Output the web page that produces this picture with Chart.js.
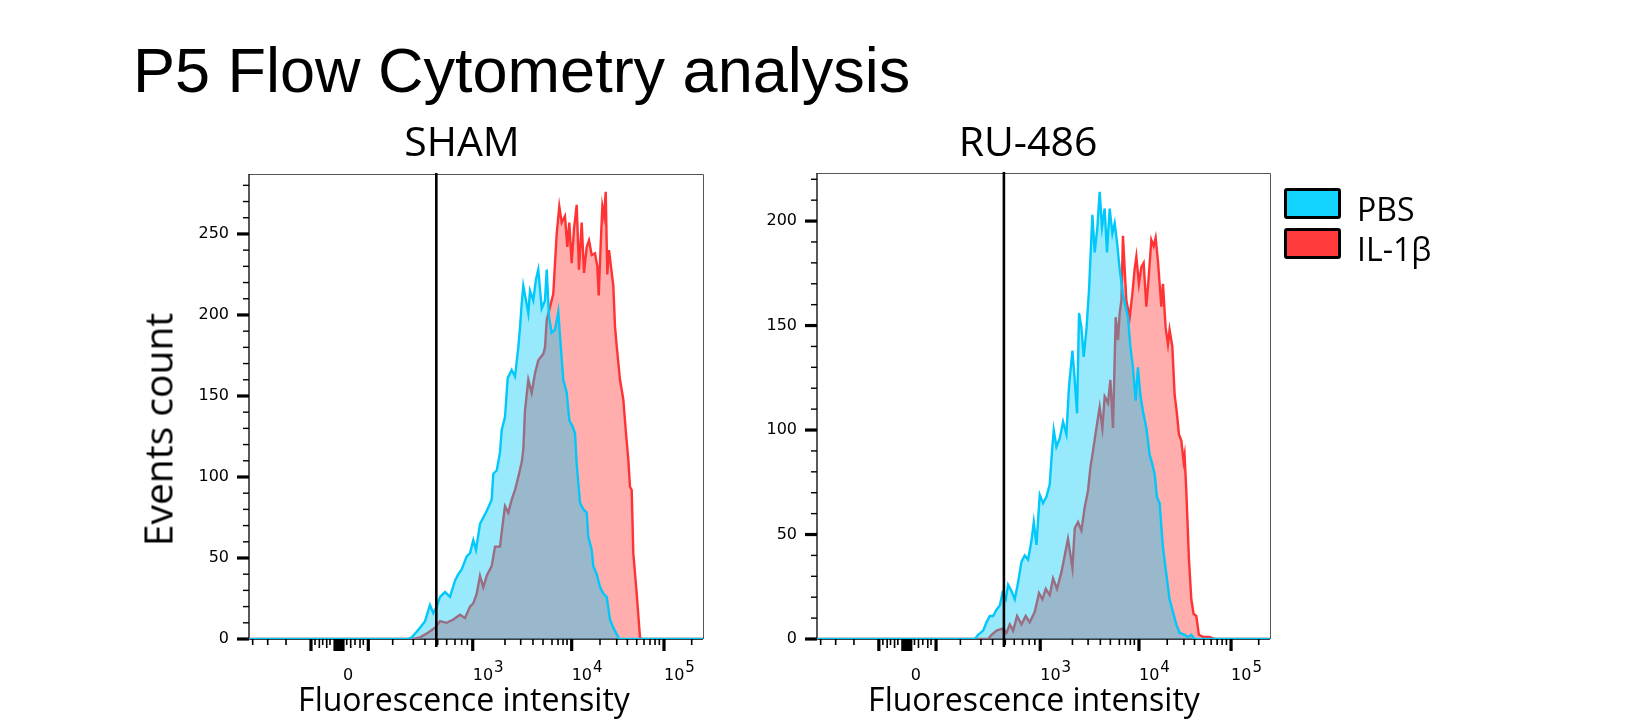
<!DOCTYPE html>
<html>
<head>
<meta charset="utf-8">
<title>P5 Flow Cytometry analysis</title>
<script src="https://cdn.jsdelivr.net/npm/chart.js@4.4.1/dist/chart.umd.min.js"></script>
<style>
  body { margin: 0; background: #fff; }
  #page { position: relative; width: 1651px; height: 724px; overflow: hidden; background: #fff; }
  #page canvas { position: absolute; top: 0; }
  .txt { position: absolute; line-height: 1; white-space: nowrap; color: #000; }
  .panel-title { font: 41px "Open Sans", sans-serif; width: 300px; text-align: center; top: 112px; }
  .x-title { font: 32px "Open Sans", sans-serif; width: 400px; text-align: center; top: 677px; }
  .swatch { position: absolute; left: 1284px; width: 57px; height: 31px; box-sizing: border-box;
            border: 3px solid #000; border-radius: 3px; }
  .legend-text { font: 32px "Open Sans", sans-serif; left: 1357px; }
</style>
</head>
<body>
<div id="page">
  <canvas id="shamChart" width="760" height="724" style="left:0"></canvas>
  <canvas id="ruChart" width="891" height="724" style="left:760px"></canvas>

  <div class="txt" style="font:63px 'Liberation Sans', Arial, sans-serif; left:133px; top:34px;">P5 Flow Cytometry analysis</div>
  <div class="txt panel-title" style="left:312px;">SHAM</div>
  <div class="txt panel-title" style="left:878px;">RU-486</div>
  <div class="txt" style="font:39px 'Open Sans', sans-serif; width:300px; text-align:center; left:7px; top:403px; transform:rotate(-90deg);">Events count</div>
  <div class="txt x-title" style="left:264px;">Fluorescence intensity</div>
  <div class="txt x-title" style="left:834px;">Fluorescence intensity</div>

  <div class="swatch" style="top:188px; background:#13D3FF;"></div>
  <div class="swatch" style="top:228px; background:#FF3B3B;"></div>
  <div class="txt legend-text" style="top:187px;">PBS</div>
  <div class="txt legend-text" style="top:227px;">IL-1β</div>
</div>

<script>
// x values are display channels of the biexponential axis (0 - 1024)
const shamPbsX = [0, 358.6, 367.0, 376.7, 385.7, 397.0, 408.2, 415.7, 423.4, 430.8, 442.1, 453.4, 464.6, 472.1, 479.7, 491.0, 498.5, 505.9, 512.0, 521.0, 528.5, 536.1, 547.4, 551.0, 558.7, 566.1, 570.0, 577.4, 583.5, 592.5, 600.0, 607.4, 611.2, 615.1, 618.7, 624.8, 630.0, 633.8, 641.2, 647.3, 652.5, 660.2, 667.6, 671.5, 676.7, 682.7, 690.2, 697.6, 701.5, 708.9, 716.6, 722.4, 730.1, 735.3, 739.1, 746.6, 754.0, 761.7, 765.3, 773.0, 776.6, 784.2, 791.7, 799.1, 806.8, 814.2, 821.7, 829.3, 835.2, 1024];
const shamPbsY = [0, 0, 1, 4, 7, 11, 21, 16, 20, 26, 29, 26, 36, 40, 43, 51, 53, 61, 55, 71, 75, 79, 86, 102, 104, 115, 129, 137, 161, 166, 162, 180, 192, 207, 218, 209, 201, 215, 209, 222, 228, 204, 209, 228, 199, 189, 191, 202, 187, 160, 152, 135, 131, 127, 108, 84, 80, 78, 63, 55, 45, 40, 32, 28, 26, 12, 7, 3, 0, 0];

const shamIlX = [0, 370.6, 385.7, 404.4, 419.5, 430.8, 445.9, 460.8, 475.9, 487.2, 498.5, 505.9, 513.6, 521.0, 528.5, 536.1, 547.4, 554.9, 566.1, 573.6, 577.4, 584.9, 592.5, 600.0, 607.4, 615.1, 618.7, 622.5, 630.0, 637.6, 645.1, 652.5, 663.8, 667.6, 671.5, 678.9, 686.3, 690.2, 694.0, 699.9, 705.3, 712.7, 717.9, 722.4, 727.8, 733.0, 739.1, 744.3, 750.4, 755.6, 761.7, 766.9, 773.0, 780.4, 785.6, 788.8, 793.3, 797.0, 800.7, 804.6, 808.1, 812.0, 821.7, 825.5, 829.3, 836.8, 844.2, 850.3, 855.5, 859.3, 863.2, 866.8, 874.5, 881.9, 885.7, 1024];
const shamIlY = [0, 0, 1, 4, 7, 11, 10, 12, 15, 13, 20, 22, 28, 39, 32, 39, 45, 57, 57, 74, 82, 78, 86, 92, 100, 109, 117, 141, 160, 152, 164, 172, 176, 180, 197, 205, 213, 232, 250, 267, 257, 261, 242, 257, 232, 253, 268, 228, 257, 226, 242, 246, 237, 238, 230, 212, 244, 267, 261, 276, 225, 240, 218, 193, 181, 160, 148, 127, 111, 94, 92, 53, 28, 1, 0, 0];

const ruPbsX = [0, 356.8, 364.2, 375.5, 383.2, 390.6, 398.1, 405.8, 413.2, 419.3, 426.8, 432.0, 439.6, 447.1, 454.5, 462.2, 469.7, 477.1, 484.8, 490.0, 496.1, 503.5, 511.0, 518.7, 526.1, 530.6, 535.1, 541.2, 548.7, 556.2, 563.8, 569.7, 577.4, 582.6, 587.8, 592.3, 597.7, 602.9, 609.0, 614.9, 622.5, 627.7, 633.8, 639.0, 644.2, 650.3, 655.5, 661.6, 667.7, 672.9, 678.1, 684.2, 691.6, 697.7, 702.9, 708.3, 714.2, 720.3, 725.5, 730.9, 736.8, 744.5, 751.9, 756.4, 763.2, 768.4, 774.5, 781.9, 789.6, 797.0, 804.5, 812.2, 819.6, 830.9, 838.4, 846.1, 853.5, 1024];
const ruPbsY = [0, 0, 2, 4, 8, 11, 11, 14, 16, 22, 19, 26, 23, 19, 27, 37, 40, 38, 47, 56, 45, 69, 65, 68, 74, 88, 100, 92, 96, 104, 98, 121, 138, 124, 108, 156, 149, 135, 148, 167, 203, 185, 197, 214, 197, 206, 185, 206, 194, 199, 190, 177, 165, 159, 154, 140, 130, 114, 130, 117, 109, 101, 88, 85, 79, 68, 65, 44, 31, 19, 13, 7, 3, 2, 1, 2, 0, 0];

const ruIlX = [0, 386.8, 394.5, 405.8, 419.3, 428.3, 435.8, 443.3, 452.3, 462.2, 471.9, 480.9, 492.2, 501.9, 509.6, 517.1, 526.1, 533.6, 542.6, 552.5, 560.0, 567.4, 577.4, 582.6, 590.0, 597.7, 605.1, 612.6, 618.0, 623.9, 631.6, 639.0, 645.1, 650.3, 657.8, 663.2, 669.1, 675.2, 680.4, 684.2, 688.1, 691.6, 695.5, 699.3, 706.8, 712.8, 718.0, 721.9, 727.7, 733.2, 738.4, 744.5, 749.7, 755.8, 761.0, 765.5, 770.7, 774.5, 778.4, 782.0, 788.1, 793.3, 797.0, 803.2, 808.4, 813.6, 818.1, 823.5, 828.7, 830.9, 834.8, 840.6, 846.1, 851.3, 857.4, 863.3, 872.3, 887.4, 898.7, 1024];
const ruIlY = [0, 0, 2, 4, 5, 3, 7, 4, 11, 7, 11, 8, 13, 22, 19, 24, 21, 29, 24, 32, 40, 48, 34, 53, 56, 52, 63, 71, 82, 90, 101, 111, 101, 116, 113, 124, 101, 154, 143, 156, 162, 193, 177, 162, 154, 165, 177, 183, 170, 178, 180, 159, 173, 191, 188, 192, 181, 170, 159, 170, 149, 141, 148, 140, 117, 108, 98, 95, 85, 88, 71, 39, 19, 12, 11, 2, 1, 1, 0, 0];

// axis ticks (channels) and labels
const xMajorTicks = [139.8, 194, 197, 200, 203, 206, 209, 212, 269.1, 504.6, 727.8, 936];
const xMidTicks = [158.6, 175.3, 229.4, 250.4];
const xMinorTicks = [8.3, 42.2, 83.5, 148.9, 166.2, 182.7, 220.4, 239.1, 257.8, 324.1, 370.6, 396.9, 425.6, 445.9, 464.6, 479.7, 492.4, 577.4, 612.8, 640.5, 663.1, 683.4, 697.0, 708.3, 717.3, 791.7, 829.4, 853.3, 874.5, 891.0, 904.5, 915.8, 925.5, 998.5];
const xLabelPos = [223.3, 504.6, 727.8, 936];
const xLabelBase = ['0', '10', '10', '10'];
const xLabelExp = ['', '3', '4', '5'];
const gateChannel = 422.5;

const shamYTicks = [0, 50, 100, 150, 200, 250];
const ruYTicks = [0, 50, 100, 150, 200];
const yMinorStep = 10;

const pbsLine = '#00C8FA';
const pbsFill = 'rgba(0, 200, 250, 0.4)';
const ilLine = '#FF3333';
const ilFill = 'rgba(255, 51, 51, 0.4)';

// draws frame, FlowJo style ticks, tick labels and the gate line
const flowAxes = {
    id: 'flowAxes',
    beforeDatasetsDraw(chart) {
        const ctx = chart.ctx;
        const a = chart.chartArea;
        ctx.save();
        ctx.strokeStyle = '#555';
        ctx.lineWidth = 1;
        ctx.beginPath();
        ctx.moveTo(a.left, a.top + 0.5);
        ctx.lineTo(a.right + 0.5, a.top + 0.5);
        ctx.lineTo(a.right + 0.5, a.bottom);
        ctx.stroke();
        ctx.strokeStyle = '#000';
        ctx.lineWidth = 1.3;
        ctx.beginPath();
        ctx.moveTo(a.left, a.top);
        ctx.lineTo(a.left, a.bottom);
        ctx.lineTo(a.right, a.bottom);
        ctx.stroke();
        ctx.restore();
    },
    afterDatasetsDraw(chart, args, opts) {
        const ctx = chart.ctx;
        const a = chart.chartArea;
        const gx = chart.scales.x.getPixelForValue(opts.gate);
        ctx.save();
        ctx.strokeStyle = '#000';
        ctx.lineWidth = 2.6;
        ctx.beginPath();
        ctx.moveTo(gx, a.top - 1);
        ctx.lineTo(gx, a.bottom + 8);
        ctx.stroke();
        ctx.restore();
    },
    afterDraw(chart, args, opts) {
        const ctx = chart.ctx;
        const a = chart.chartArea;
        const xs = chart.scales.x;
        const ys = chart.scales.y;
        ctx.save();
        ctx.strokeStyle = '#000';
        ctx.fillStyle = '#000';

        // y axis
        ctx.lineWidth = 1.4;
        for (let v = 0; v <= ys.max; v += yMinorStep) {
            if (opts.yTicks.includes(v)) continue;
            const y = ys.getPixelForValue(v);
            ctx.beginPath();
            ctx.moveTo(a.left - 6, y);
            ctx.lineTo(a.left, y);
            ctx.stroke();
        }
        ctx.font = '16px "DejaVu Sans", sans-serif';
        ctx.textAlign = 'right';
        ctx.textBaseline = 'middle';
        ctx.lineWidth = 3.2;
        opts.yTicks.forEach(v => {
            const y = ys.getPixelForValue(v);
            ctx.beginPath();
            ctx.moveTo(a.left - 12, y);
            ctx.lineTo(a.left, y);
            ctx.stroke();
            ctx.fillText(String(v), a.left - 20, y);
        });

        // x axis
        ctx.lineWidth = 1.6;
        xMinorTicks.forEach(v => {
            const x = xs.getPixelForValue(v);
            ctx.beginPath();
            ctx.moveTo(x, a.bottom);
            ctx.lineTo(x, a.bottom + 6);
            ctx.stroke();
        });
        xMidTicks.forEach(v => {
            const x = xs.getPixelForValue(v);
            ctx.beginPath();
            ctx.moveTo(x, a.bottom);
            ctx.lineTo(x, a.bottom + 9);
            ctx.stroke();
        });
        ctx.lineWidth = 3.2;
        xMajorTicks.forEach(v => {
            const x = xs.getPixelForValue(v);
            ctx.beginPath();
            ctx.moveTo(x, a.bottom);
            ctx.lineTo(x, a.bottom + 12);
            ctx.stroke();
        });
        ctx.textBaseline = 'alphabetic';
        const labelY = a.bottom + 41;
        xLabelPos.forEach((v, i) => {
            const x = xs.getPixelForValue(v);
            ctx.font = '16px "DejaVu Sans", sans-serif';
            if (xLabelExp[i] === '') {
                ctx.textAlign = 'center';
                ctx.fillText(xLabelBase[i], x, labelY);
            } else {
                ctx.textAlign = 'left';
                ctx.fillText(xLabelBase[i], x, labelY);
                const w = ctx.measureText(xLabelBase[i]).width;
                ctx.font = '15px "DejaVu Sans", sans-serif';
                ctx.fillText(xLabelExp[i], x + w + 1, labelY - 8);
            }
        });
        ctx.restore();
    }
};

function toPoints(xValues, yValues) {
    return xValues.map((x, i) => ({ x: x, y: yValues[i] }));
}

function makePanel(canvasId, pbsX, pbsY, ilX, ilY, yMax, yTicks, padding) {
    const ctx = document.getElementById(canvasId).getContext('2d');
    return new Chart(ctx, {
        type: 'line',
        data: {
            datasets: [{
                label: 'PBS',
                data: toPoints(pbsX, pbsY),
                borderColor: pbsLine,
                backgroundColor: pbsFill,
                borderWidth: 2.4,
                pointRadius: 0,
                tension: 0,
                fill: 'origin',
                order: 0
            }, {
                label: 'IL-1β',
                data: toPoints(ilX, ilY),
                borderColor: ilLine,
                backgroundColor: ilFill,
                borderWidth: 2.4,
                pointRadius: 0,
                tension: 0,
                fill: 'origin',
                order: 1
            }]
        },
        options: {
            responsive: false,
            animation: false,
            devicePixelRatio: 1,
            layout: { padding: padding },
            scales: {
                x: { type: 'linear', min: 0, max: 1024, display: false },
                y: { type: 'linear', min: 0, max: yMax, display: false }
            },
            plugins: {
                legend: { display: false },
                tooltip: { enabled: false },
                flowAxes: { yTicks: yTicks, gate: gateChannel }
            }
        },
        plugins: [flowAxes]
    });
}

makePanel('shamChart', shamPbsX, shamPbsY, shamIlX, shamIlY, 287, shamYTicks,
    { left: 249, right: 57, top: 174, bottom: 85 });
makePanel('ruChart', ruPbsX, ruPbsY, ruIlX, ruIlY, 223, ruYTicks,
    { left: 57, right: 381, top: 173, bottom: 85 });
</script>
</body>
</html>
